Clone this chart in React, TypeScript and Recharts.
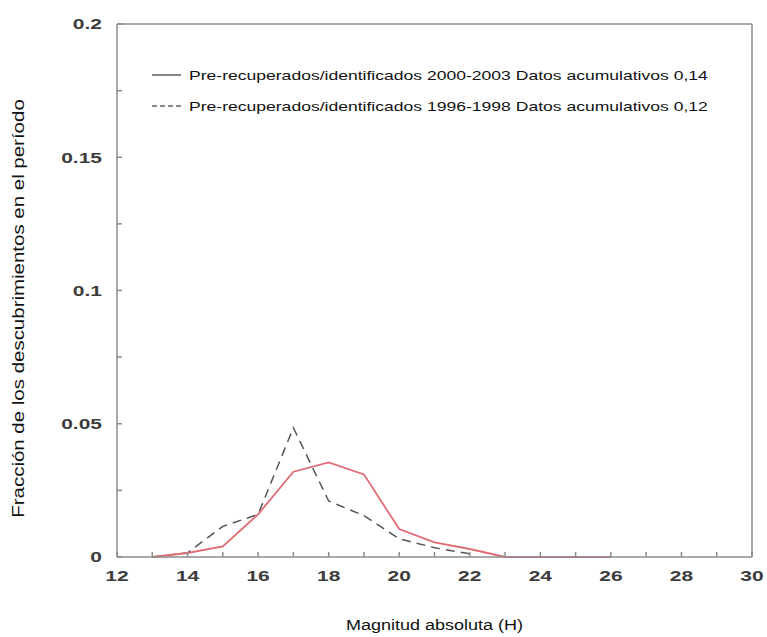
import React from 'react';
import { LineChart, Line, XAxis, YAxis, Legend } from 'recharts';

const magnitudes = [13, 14, 15, 16, 17, 18, 19, 20, 21, 22, 23, 24, 25, 26];
const recent = [0, 0.0015, 0.004, 0.016, 0.032, 0.0355, 0.031, 0.0105, 0.0055, 0.003, 0, 0, 0, 0];
const older = [0, 0.0016, 0.0115, 0.016, 0.0485, 0.021, 0.0155, 0.0068, 0.0035, 0.0012, null, null, null, null];

const xTicks = [12, 13, 14, 15, 16, 17, 18, 19, 20, 21, 22, 23, 24, 25, 26, 27, 28, 29, 30];
const xLabels = [12, 14, 16, 18, 20, 22, 24, 26, 28, 30];
const yTicks = [0, 0.025, 0.05, 0.075, 0.1, 0.125, 0.15, 0.175, 0.2];
const yLabels = [0, 0.05, 0.1, 0.15, 0.2];

const legendItems = [
  { label: 'Pre-recuperados/identificados 2000-2003 Datos acumulativos 0,14', dashed: false },
  { label: 'Pre-recuperados/identificados 1996-1998 Datos acumulativos 0,12', dashed: true },
];

const data = magnitudes.map((m, i) => ({ h: m, recent: recent[i], older: older[i] }));

const FONT = 'Liberation Sans, Arial, sans-serif';
const axisColor = '#8c8c8c';
const STRETCH = 1.4;

const XTick = (props: any) => {
  const { x, y, payload } = props;
  if (!xLabels.includes(payload.value)) return null;
  return (
    <g transform={`translate(${x},${y})`}>
      <text transform={`scale(${STRETCH},1)`} textAnchor="middle" dy="0.71em" fontFamily={FONT} fontSize={15} fontWeight={700} fill="#3c3c3c">
        {payload.value}
      </text>
    </g>
  );
};

const YTick = (props: any) => {
  const { x, y, payload } = props;
  if (!yLabels.includes(payload.value)) return null;
  return (
    <g transform={`translate(${x},${y})`}>
      <text transform={`scale(${STRETCH},1)`} textAnchor="end" dy="0.36em" fontFamily={FONT} fontSize={15} fontWeight={700} fill="#3c3c3c">
        {String(payload.value)}
      </text>
    </g>
  );
};

const YLabel = (props: any) => {
  const { viewBox } = props;
  const cx = viewBox.x + 18;
  const cy = viewBox.y + viewBox.height / 2 + 18;
  return (
    <text transform={`translate(${cx},${cy}) rotate(-90) scale(1.28,1)`} textAnchor="middle" dominantBaseline="central" fontFamily={FONT} fontSize={16} fill="#111">
      Fracción de los descubrimientos en el período
    </text>
  );
};

const XLabel = (props: any) => {
  const { viewBox } = props;
  const cx = viewBox.x + viewBox.width / 2;
  const cy = viewBox.y + 68;
  return (
    <text transform={`translate(${cx},${cy}) scale(1.2,1)`} textAnchor="middle" dominantBaseline="central" fontFamily={FONT} fontSize={15} fill="#111">
      Magnitud absoluta (H)
    </text>
  );
};

const renderLegend = () => (
  <svg width={600} height={70} style={{ display: 'block' }}>
    {legendItems.map((it, i) => {
      const cy = 18 + i * 31;
      return (
        <g key={it.label}>
          <line x1={2} x2={31} y1={cy} y2={cy} stroke="#111" strokeWidth={1} strokeDasharray={it.dashed ? '5 3' : undefined} />
          <text transform={`translate(39,${cy}) scale(1.35,1)`} dominantBaseline="central" fontFamily={FONT} fontSize={13} fill="#111">
            {it.label}
          </text>
        </g>
      );
    })}
  </svg>
);

export default function App() {
  return (
    <div style={{ position: 'absolute', left: 0, top: 0, background: '#fff' }}>
      <LineChart width={767} height={637} data={data} margin={{ top: 23, right: 14, bottom: 0, left: 0 }}>
        <XAxis
          dataKey="h"
          type="number"
          domain={[12, 30]}
          ticks={xTicks}
          interval={0}
          stroke={axisColor}
          strokeWidth={1.5}
          tickSize={-5}
          tickMargin={18}
          tick={<XTick />}
          height={80}
          label={<XLabel />}
        />
        <XAxis
          xAxisId="top"
          orientation="top"
          type="number"
          domain={[12, 30]}
          ticks={xTicks}
          tick={false}
          interval={0}
          stroke={axisColor}
          strokeWidth={1.5}
          tickSize={-5}
          height={1}
        />
        <YAxis
          type="number"
          domain={[0, 0.2]}
          ticks={yTicks}
          interval={0}
          stroke={axisColor}
          strokeWidth={1.5}
          tickSize={-5}
          tickMargin={20}
          tick={<YTick />}
          width={117}
          label={<YLabel />}
        />
        <YAxis
          yAxisId="right"
          orientation="right"
          type="number"
          domain={[0, 0.2]}
          ticks={yTicks}
          tick={false}
          interval={0}
          stroke={axisColor}
          strokeWidth={1.5}
          tickSize={-5}
          width={1}
        />
        <Legend
          content={renderLegend}
          layout="vertical"
          verticalAlign="middle"
          align="center"
          wrapperStyle={{ position: 'absolute', left: 150, top: 57, width: 600 }}
        />
        <Line
          type="linear"
          dataKey="older"
          stroke="#555"
          strokeWidth={1.5}
          strokeDasharray="9 6"
          dot={false}
          isAnimationActive={false}
          connectNulls={false}
        />
        <Line
          type="linear"
          dataKey="recent"
          stroke="#e06b75"
          strokeWidth={1.8}
          dot={false}
          isAnimationActive={false}
        />
      </LineChart>
    </div>
  );
}
